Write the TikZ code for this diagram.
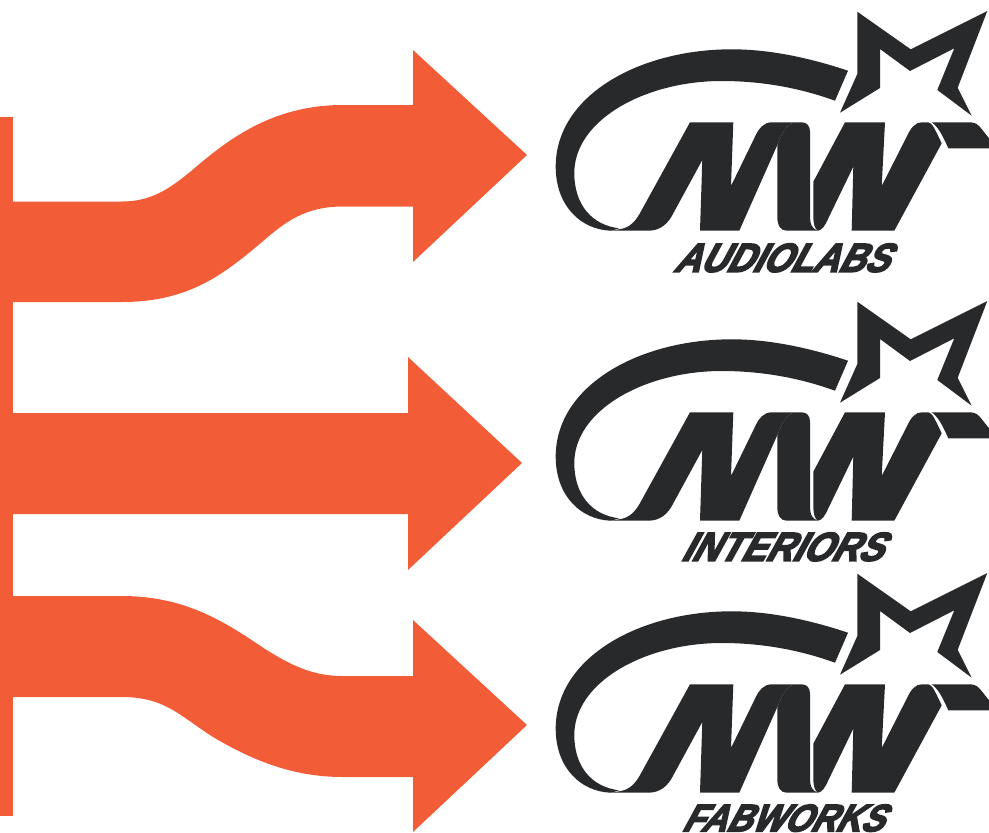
\documentclass[tikz,border=0pt]{standalone}
\usepackage{fontspec}
\newfontfamily\logofont[FakeSlant=0.6,FakeBold=4.5]{Liberation Sans Bold}
\definecolor{arrowred}{HTML}{F25D38}
\definecolor{logoink}{HTML}{28292B}
\tikzset{
  arrowshape/.style={fill=arrowred,draw=none},
  logoshape/.style={fill=logoink,draw=none},
  logotext/.style={inner sep=0pt,text=logoink}
}
\newcommand{\mwlogo}[1]{%
\begin{scope}[yshift=#1]
% star
\fill[logoshape] (857.3,11.7) -- (910.7,49.3) -- (987.3,11) -- (957.7,87.7) -- (971.7,115.7) -- (937.3,90) -- (954.3,48.3) -- (910,71) -- (880,49) -- (880,88) -- (840,112.7) -- (857.3,74) -- cycle;
% swoosh
\fill[logoshape] (848,70.7) .. controls (810,58) and (770,49.3) .. (731.7,49.3)
  .. controls (640,49.3) and (555.7,95) .. (555.7,166.7)
  .. controls (555.7,205) and (580,230) .. (611.7,230.7)
  -- (619,228.3)
  .. controls (592,225) and (574.3,205) .. (574.3,173)
  .. controls (574.3,120) and (645,81) .. (721.7,81)
  .. controls (762,81) and (800,88) .. (835,100.7) -- cycle;
% M
\fill[logoshape] (611.7,230.7) -- (648.3,230.7) .. controls (660,230.7) and (668,224) .. (673.3,213.3)
  -- (702.3,160) -- (700,230.7) -- (739.3,230.7) -- (777.3,145)
  .. controls (782,134) and (786,124) .. (795,122.3)
  -- (771.7,122.3) .. controls (764,122.3) and (759,128) .. (755,136.7)
  -- (731,186) -- (733.3,122.3) -- (690,122.3) -- (641.7,210)
  .. controls (636,221) and (630,228) .. (619,229.3) -- cycle;
% M/W fold
\fill[logoshape] (777.3,145) .. controls (782,134) and (786,124) .. (795,122.3) -- (801.7,122.3)
  .. controls (807,122.3) and (810,126) .. (810,131.7) -- (810,216.7)
  .. controls (810,224) and (812,229) .. (818,230.7) -- (786.7,230.7)
  .. controls (781,230.7) and (777.3,226) .. (777.3,216.7) -- cycle;
% W
\fill[logoshape] (813.3,181.7) -- (845,122.3) -- (885,122.3) -- (881.7,186) -- (906.7,136.7)
  .. controls (911,127) and (916,122.3) .. (921.7,122.3) -- (928.3,122.3)
  .. controls (932,123) and (934,127) .. (941.7,143.3)
  -- (894.3,230.7) -- (851.7,230.7) -- (853.3,166.7) -- (828.3,218.3)
  .. controls (825,226) and (822,230) .. (818,230.7)
  .. controls (815,229.5) and (813.3,224) .. (813.3,216.7) -- cycle;
% tail
\fill[logoshape] (931.7,122.3) -- (968.3,122.3) .. controls (973,122.3) and (977,123) .. (980,127)
  -- (989,138.3) -- (989,148.3) -- (948.3,148.3)
  .. controls (942,134) and (938,127) .. (931.7,122.3) -- cycle;
\end{scope}}
\begin{document}
\begin{tikzpicture}[x=1pt,y=-1pt]
\useasboundingbox (0,0) rectangle (989,833);
% bar
\fill[arrowshape] (0,117) rectangle (13,816);
% arrow 1
\fill[arrowshape] (0,201.5) -- (122,201.5) .. controls (150,201.5) and (168,190) .. (190,172)
  .. controls (225,142) and (270,105) .. (343,105)
  -- (413,105) -- (413,50) -- (527,155) -- (413,262) -- (413,206.5) -- (343,206.5)
  .. controls (305,206.5) and (285,222) .. (262,242)
  .. controls (225,273) and (190,302) .. (122,302) -- (0,302) -- cycle;
% arrow 2
\fill[arrowshape] (0,413) -- (408,413) -- (408,357) -- (522,463) -- (408,570) -- (408,514) -- (0,514) -- cycle;
% arrow 3
\fill[arrowshape] (0,596) -- (122,596) .. controls (185,596) and (225,622) .. (262,647)
  .. controls (290,665) and (312,676) .. (343,676)
  -- (413,676) -- (413,620) -- (527,725) -- (413,832) -- (413,777) -- (343,777)
  .. controls (300,777) and (260,765) .. (213,737)
  .. controls (180,716) and (165,697) .. (122,697) -- (0,697) -- cycle;
% logos
\mwlogo{0pt}
\mwlogo{-290pt}
\mwlogo{-562pt}
\node[logotext,anchor=north west] (audiolabs) at (673,243.5) {\resizebox{214pt}{28pt}{\logofont AUDIOLABS}};
\node[logotext,anchor=north west] (interiors) at (680,532.5) {\resizebox{201pt}{28pt}{\logofont INTERIORS}};
\node[logotext,anchor=north west] (fabworks) at (681,804.5) {\resizebox{201pt}{26.5pt}{\logofont FABWORKS}};
\end{tikzpicture}
\end{document}
